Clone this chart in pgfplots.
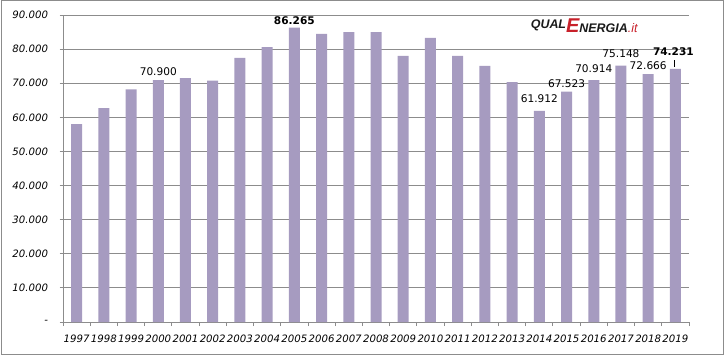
\documentclass[border=0pt]{standalone}
\usepackage{pgfplots}
\pgfplotsset{compat=1.18}
\usepackage{fontspec}
\setmainfont{DejaVu Sans}
\newfontfamily\logofont{Liberation Sans}
\definecolor{barc}{HTML}{A69BC0}
\definecolor{gridc}{HTML}{8C8C8C}
\definecolor{logored}{HTML}{C8202A}
\definecolor{logodark}{HTML}{1A1A1A}
\begin{document}
\begin{tikzpicture}[x=1bp,y=1bp]
\useasboundingbox (0,0) rectangle (724,355);
\draw[gridc, line width=1bp] (1,1) rectangle (723,354);
\begin{axis}[
  at={(63bp,33bp)}, anchor=south west,
  scale only axis, width=626bp, height=307bp,
  ymin=0, ymax=90000, xmin=-0.5, xmax=22.5,
  ybar, bar width=11bp,
  scaled y ticks=false,
  axis x line*=bottom, axis y line*=left,
  axis line style={draw=gridc, line width=0.9bp, -},
  ymajorgrids, grid style={draw=gridc, line width=0.9bp},
  ytick={0,10000,...,90000},
  yticklabels={-,10.000,20.000,30.000,40.000,50.000,60.000,70.000,80.000,90.000},
  xtick={0,...,22},
  xticklabels={1997,1998,1999,2000,2001,2002,2003,2004,2005,2006,2007,2008,2009,2010,2011,2012,2013,2014,2015,2016,2017,2018,2019},
  minor xtick={-0.5,0.5,...,22.5},
  tick align=outside,
  major tick length=3.5bp,
  minor tick length=4bp,
  ytick style={draw=gridc, line width=0.9bp},
  every major x tick/.style={draw=none},
  every minor x tick/.style={draw=gridc, line width=0.9bp},
  /pgf/number format/assume math mode=true,
  ticklabel style={font=\fontsize{10.2}{12}\selectfont\itshape},
  yticklabel style={xshift=-8bp},
  xticklabel style={yshift=-6bp},
  clip=false,
]
\addplot[fill=barc, draw=none] coordinates {
(0,58000) (1,62700) (2,68200) (3,70900) (4,71500) (5,70800) (6,77400)
(7,80600) (8,86265) (9,84500) (10,85000) (11,85000) (12,78000) (13,83300)
(14,78000) (15,75100) (16,70300) (17,61912) (18,67523) (19,70914) (20,75148)
(21,72666) (22,74231)};
\begin{scope}[every node/.style={font=\fontsize{10.6}{12}\selectfont, inner sep=1bp}]
\node[anchor=south] at (axis cs:3,70900) [yshift=3bp] {70.900};
\node[anchor=south] at (axis cs:8,86265) [yshift=2bp] {\bfseries 86.265};
\node[anchor=south] at (axis cs:17,61912) [yshift=7bp] {61.912};
\node[anchor=south] at (axis cs:18,67523) [yshift=3bp] {67.523};
\node[anchor=south] at (axis cs:19,70914) [yshift=6bp] {70.914};
\node[anchor=south] at (axis cs:20,75148) [yshift=7bp] {75.148};
\node[anchor=south] at (axis cs:21,72666) [yshift=3bp] {72.666};
\node[anchor=south] at (axis cs:22,74231) [yshift=12bp, xshift=-2bp] {\bfseries 74.231};
\draw[black, line width=0.6bp] ([xshift=-1bp,yshift=2bp]axis cs:22,74231) -- ([xshift=-1bp,yshift=9bp]axis cs:22,74231);
\end{scope}
\node[anchor=west, inner sep=0pt] at (rel axis cs:0.747,0.965)
  {\logofont\bfseries\itshape\fontsize{12.5}{14}\selectfont
   \textcolor{logodark}{QUAL}\raisebox{-4bp}{\textcolor{logored}{\fontsize{20}{20}\selectfont E}}\raisebox{-4bp}{\textcolor{logodark}{NERGIA}}\raisebox{-4bp}{\textcolor{logored}{\mdseries.it}}};
\end{axis}
\end{tikzpicture}
\end{document}
